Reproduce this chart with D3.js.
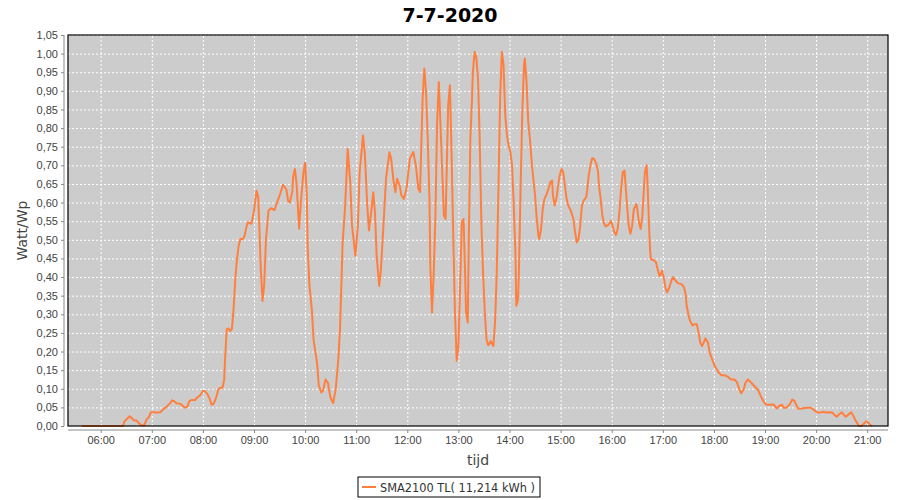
<!DOCTYPE html>
<html>
<head>
<meta charset="utf-8">
<script src="https://cdn.jsdelivr.net/npm/d3@7"></script>
<style>
  body { margin: 0; background: #fff; }
  svg { font-family: "DejaVu Sans", sans-serif; }
  .tick text { fill: #444; font-size: 11px; }
  .grid line { stroke: #fff; stroke-dasharray: 2,2; }
</style>
</head>
<body>
<div id="chart"></div>
<script>
// data (time of day, Watt/Wp)
const times = ["05:38","06:26","06:28","06:34","06:36","06:39","06:42","06:45","06:48","06:51","06:54","06:57","06:59","07:03","07:06","07:10","07:13","07:17","07:21","07:24","07:26","07:29","07:33","07:36","07:39","07:42","07:44","07:47","07:51","07:53","07:57","08:00","08:02","08:05","08:08","08:10","08:12","08:14","08:16","08:18","08:21","08:23","08:25","08:26","08:28","08:30","08:32","08:34","08:36","08:38","08:40","08:42","08:44","08:47","08:49","08:51","08:53","08:57","09:00","09:03","09:05","09:06","09:08","09:10","09:12","09:14","09:17","09:20","09:24","09:27","09:31","09:34","09:38","09:40","09:42","09:45","09:46","09:48","09:50","09:52","09:53","09:55","09:58","10:00","10:02","10:03","10:05","10:08","10:10","10:14","10:16","10:19","10:21","10:24","10:27","10:28","10:30","10:33","10:36","10:39","10:41","10:44","10:47","10:50","10:53","10:55","10:59","11:02","11:04","11:08","11:10","11:13","11:15","11:18","11:20","11:22","11:24","11:27","11:29","11:32","11:35","11:39","11:41","11:44","11:46","11:48","11:51","11:53","11:56","11:59","12:03","12:07","12:10","12:13","12:15","12:16","12:18","12:20","12:22","12:24","12:26","12:27","12:29","12:31","12:33","12:35","12:37","12:39","12:41","12:43","12:45","12:46","12:48","12:50","12:52","12:54","12:56","12:58","13:00","13:02","13:04","13:06","13:07","13:09","13:11","13:12","13:14","13:16","13:17","13:19","13:21","13:23","13:25","13:27","13:29","13:31","13:33","13:35","13:38","13:41","13:43","13:45","13:47","13:49","13:51","13:53","13:55","13:57","13:59","14:01","14:03","14:05","14:07","14:08","14:10","14:11","14:13","14:15","14:17","14:18","14:20","14:22","14:24","14:26","14:28","14:30","14:32","14:34","14:35","14:37","14:39","14:41","14:43","14:45","14:48","14:50","14:51","14:53","14:55","14:57","14:59","15:01","15:03","15:05","15:07","15:09","15:12","15:15","15:17","15:19","15:21","15:23","15:25","15:27","15:30","15:31","15:33","15:35","15:37","15:39","15:42","15:44","15:45","15:47","15:49","15:51","15:53","15:56","15:59","16:01","16:03","16:05","16:07","16:09","16:11","16:13","16:15","16:16","16:18","16:20","16:22","16:24","16:26","16:29","16:30","16:32","16:34","16:36","16:38","16:39","16:41","16:42","16:43","16:44","16:45","16:46","16:49","16:52","16:54","16:56","16:58","16:59","17:01","17:03","17:05","17:07","17:10","17:12","17:15","17:18","17:22","17:25","17:27","17:28","17:30","17:32","17:35","17:37","17:40","17:42","17:44","17:46","17:48","17:50","17:53","17:55","17:58","18:01","18:05","18:09","18:13","18:17","18:20","18:24","18:27","18:30","18:32","18:35","18:37","18:40","18:44","18:48","18:52","18:55","18:58","19:01","19:05","19:10","19:14","19:16","19:20","19:22","19:25","19:29","19:32","19:34","19:37","19:39","19:43","19:49","19:54","19:58","20:01","20:05","20:08","20:12","20:15","20:19","20:21","20:24","20:27","20:30","20:33","20:35","20:38","20:41","20:44","20:46","20:50","20:53","20:55","20:59","21:01","21:03","21:06"];
const values = [0,0,0.013,0.026,0.022,0.015,0.015,0.007,0.002,0.002,0.018,0.026,0.037,0.037,0.036,0.037,0.044,0.051,0.06,0.069,0.067,0.061,0.06,0.055,0.049,0.053,0.067,0.07,0.07,0.076,0.083,0.094,0.094,0.087,0.073,0.058,0.058,0.067,0.08,0.098,0.103,0.103,0.125,0.179,0.26,0.262,0.255,0.26,0.314,0.394,0.448,0.484,0.502,0.502,0.511,0.534,0.547,0.543,0.578,0.632,0.614,0.551,0.42,0.336,0.38,0.50,0.578,0.585,0.58,0.60,0.625,0.648,0.635,0.605,0.60,0.63,0.67,0.69,0.65,0.57,0.53,0.60,0.68,0.707,0.62,0.48,0.38,0.31,0.23,0.17,0.11,0.09,0.095,0.125,0.115,0.098,0.075,0.062,0.10,0.18,0.26,0.49,0.59,0.744,0.655,0.54,0.457,0.54,0.68,0.78,0.735,0.59,0.525,0.583,0.628,0.574,0.457,0.376,0.42,0.54,0.664,0.735,0.718,0.655,0.628,0.664,0.646,0.62,0.61,0.637,0.718,0.736,0.70,0.637,0.628,0.718,0.88,0.96,0.897,0.77,0.61,0.43,0.305,0.41,0.565,0.816,0.924,0.807,0.682,0.565,0.556,0.664,0.861,0.915,0.727,0.502,0.30,0.175,0.215,0.376,0.547,0.556,0.484,0.305,0.278,0.466,0.77,0.88,0.951,1.005,0.99,0.933,0.77,0.54,0.41,0.305,0.233,0.217,0.228,0.215,0.278,0.41,0.637,0.88,1.005,0.969,0.834,0.78,0.753,0.736,0.70,0.592,0.457,0.323,0.34,0.41,0.637,0.843,0.969,0.987,0.924,0.816,0.77,0.709,0.664,0.619,0.556,0.511,0.502,0.529,0.583,0.61,0.619,0.632,0.655,0.659,0.619,0.592,0.61,0.646,0.673,0.69,0.682,0.646,0.61,0.592,0.578,0.556,0.52,0.493,0.502,0.538,0.592,0.605,0.614,0.628,0.673,0.70,0.719,0.718,0.704,0.682,0.646,0.61,0.565,0.543,0.536,0.54,0.551,0.538,0.52,0.513,0.529,0.574,0.637,0.682,0.686,0.655,0.592,0.538,0.516,0.538,0.583,0.596,0.583,0.547,0.529,0.565,0.646,0.682,0.70,0.655,0.592,0.529,0.475,0.448,0.446,0.44,0.421,0.403,0.408,0.417,0.40,0.372,0.359,0.368,0.39,0.40,0.39,0.383,0.381,0.372,0.35,0.323,0.30,0.282,0.27,0.273,0.273,0.25,0.224,0.215,0.224,0.235,0.224,0.197,0.179,0.161,0.145,0.136,0.136,0.131,0.125,0.125,0.118,0.098,0.088,0.098,0.116,0.125,0.116,0.106,0.096,0.08,0.067,0.057,0.057,0.058,0.047,0.053,0.057,0.049,0.049,0.058,0.071,0.069,0.055,0.046,0.047,0.049,0.049,0.042,0.036,0.036,0.038,0.036,0.037,0.036,0.031,0.025,0.031,0.037,0.029,0.025,0.031,0.037,0.026,0.016,0.001,0,0.004,0.013,0.01,0.004,0];
const xDomain = ["05:21:36", "21:24:24"];
const yTicks = d3.range(0, 22).map(i => i * 0.05);
const seriesName = "SMA2100 TL( 11,214 kWh )";
const title = "7-7-2020";

const parseT = d3.timeParse("%H:%M");
const parseTs = d3.timeParse("%H:%M:%S");
const data = times.map((t, i) => ({ t: parseT(t), v: values[i] }));

const margin = {top: 35, right: 12, bottom: 74, left: 68};
const width = 900 - margin.left - margin.right;
const height = 500 - margin.top - margin.bottom;

const svg = d3.select("#chart")
  .append("svg")
    .attr("width", 900)
    .attr("height", 500);

const g = svg.append("g")
    .attr("transform", "translate(" + margin.left + "," + margin.top + ")");

// scales
const xScale = d3.scaleTime()
  .domain(xDomain.map(parseTs))
  .range([0, width]);
const yScale = d3.scaleLinear()
  .domain([0, 1.05])
  .range([height, 0]);

const hourTicks = d3.timeHour.range(parseT("06:00"), parseT("21:01"));
const fmtY = v => d3.format(".2f")(v).replace(".", ",");

// plot background
g.append("rect")
    .attr("width", width)
    .attr("height", height)
    .attr("fill", "#cccccc");

// grid lines
g.append("g")
    .attr("class", "grid")
  .call(d3.axisLeft(yScale).tickValues(yTicks).tickSize(-width).tickFormat(""))
  .call(gg => gg.select(".domain").remove());
g.append("g")
    .attr("class", "grid")
    .attr("transform", "translate(0," + height + ")")
  .call(d3.axisBottom(xScale).tickValues(hourTicks).tickSize(-height).tickFormat(""))
  .call(gg => gg.select(".domain").remove());

// line
const line = d3.line()
  .x(d => xScale(d.t))
  .y(d => yScale(d.v));
g.append("path")
    .datum(data)
    .attr("fill", "none")
    .attr("stroke", "#ff7f3f")
    .attr("stroke-width", 2)
    .attr("stroke-linejoin", "round")
    .attr("d", line);

// plot outline
g.append("rect")
    .attr("width", width)
    .attr("height", height)
    .attr("fill", "none")
    .attr("stroke", "#000")
    .attr("stroke-width", 1.2);

// axes, offset a few pixels from the plot like the original
g.append("g")
    .attr("transform", "translate(0," + (height + 4) + ")")
  .call(d3.axisBottom(xScale).tickValues(hourTicks).tickSize(3).tickPadding(3)
    .tickFormat(d3.timeFormat("%H:%M")))
  .call(a => a.select(".domain").attr("stroke", "#888").attr("d", "M0,0H" + width))
  .call(a => a.selectAll(".tick line").attr("stroke", "#888"));

g.append("g")
    .attr("transform", "translate(-4,0)")
  .call(d3.axisLeft(yScale).tickValues(yTicks).tickSize(3).tickPadding(3).tickFormat(fmtY))
  .call(a => a.select(".domain").attr("stroke", "#888").attr("d", "M0," + height + "V0"))
  .call(a => a.selectAll(".tick line").attr("stroke", "#888"));

// title and axis labels
svg.append("text")
    .attr("x", 450)
    .attr("y", 22)
    .attr("text-anchor", "middle")
    .attr("font-size", "19px")
    .attr("font-weight", "bold")
    .text(title);

svg.append("text")
    .attr("transform", "translate(27," + (margin.top + height / 2) + ") rotate(-90)")
    .attr("text-anchor", "middle")
    .attr("font-size", "14px")
    .attr("fill", "#444")
    .text("Watt/Wp");

svg.append("text")
    .attr("x", margin.left + width / 2)
    .attr("y", 465)
    .attr("text-anchor", "middle")
    .attr("font-size", "14px")
    .attr("fill", "#444")
    .text("tijd");

// legend
const legend = svg.append("g").attr("transform", "translate(358,477)");
legend.append("rect")
    .attr("width", 182)
    .attr("height", 20)
    .attr("fill", "#fff")
    .attr("stroke", "#000");
legend.append("line")
    .attr("x1", 4).attr("x2", 18)
    .attr("y1", 10).attr("y2", 10)
    .attr("stroke", "#ff7f3f")
    .attr("stroke-width", 2);
legend.append("text")
    .attr("x", 22)
    .attr("y", 14.5)
    .attr("font-size", "12px")
    .attr("fill", "#333")
    .attr("textLength", 155)
    .attr("lengthAdjust", "spacingAndGlyphs")
    .text(seriesName);
</script>
</body>
</html>
